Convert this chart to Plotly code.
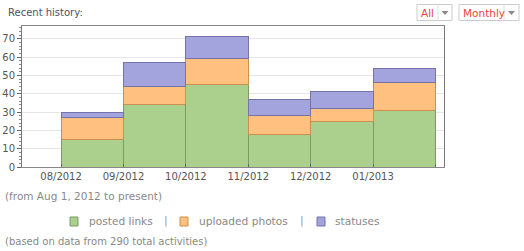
import plotly.graph_objects as go

months = ["08/2012", "09/2012", "10/2012", "11/2012", "12/2012", "01/2013"]
posted_links = [15, 34, 45, 18, 25, 31]
uploaded_photos = [12, 10, 14, 10, 7, 15]
statuses = [3, 13, 12, 9, 9, 8]
series_names = ["posted links", "uploaded photos", "statuses"]
fills = ["#abcf8d", "#ffc080", "#a3a3dd"]
edges = ["#7d9a66", "#c99050", "#7474ab"]

W, H = 524, 251
L, R, T, B = 22, 80, 26, 84
PW, PH = W - L - R, H - T - B

def px(x):
    return (x - L) / PW

def py(y):
    return (H - B - y) / PH

xpos = [i + 0.5 for i in range(len(months))]

fig = go.Figure()
for name, vals, fc, ec in zip(series_names, [posted_links, uploaded_photos, statuses], fills, edges):
    fig.add_trace(go.Bar(x=xpos, y=vals, width=1, name=name,
                         marker=dict(color=fc, line=dict(color=ec, width=1)),
                         showlegend=False, hoverinfo="skip"))

font = "DejaVu Sans, Verdana, sans-serif"
fig.update_layout(
    width=W, height=H, margin=dict(l=L, r=R, t=T, b=B),
    barmode="stack", plot_bgcolor="white", paper_bgcolor="white",
    font=dict(family=font, size=10, color="#555"),
    xaxis=dict(range=[-0.626, 6.137], tickvals=list(range(len(months) + 1)),
               ticktext=months + [""], ticks="inside", ticklen=3, tickcolor="#666",
               showline=True, linecolor="#888", mirror=True, showgrid=False,
               zeroline=False, automargin=False, tickfont=dict(size=10, color="#555")),
    yaxis=dict(range=[0, 77], dtick=10, ticks="outside", ticklen=4, tickcolor="#666",
               showline=True, linecolor="#777", mirror=True, gridcolor="#e6e6e6",
               zeroline=False, automargin=False, tickfont=dict(size=10, color="#555"),
               minor=dict(dtick=2, ticks="outside", ticklen=2, tickcolor="#888", showgrid=False)),
)

shapes = []
ann = []
def text(x, y, s, size=10, color="#888", anchor="left"):
    ann.append(dict(x=px(x), y=py(y), xref="paper", yref="paper", text=s, showarrow=False,
                    xanchor=anchor, yanchor="middle", font=dict(family=font, size=size, color=color)))

text(6, 12.5, "Recent history:", size=10, color="#4a5263")
text(3, 196, "(from Aug 1, 2012 to present)", size=10.5)
text(3, 241, "(based on data from 290 total activities)", size=10)

# legend
leg = [(70, 88, series_names[0]), (180, 198, series_names[1]), (317, 334, series_names[2])]
for (sx, tx, name), fc, ec in zip(leg, fills, edges):
    shapes.append(dict(type="rect", xref="paper", yref="paper", x0=px(sx), x1=px(sx + 8),
                       y0=py(226), y1=py(217), fillcolor=fc, line=dict(color=ec, width=1)))
    text(tx - 1, 221, name, size=10.6)
text(166, 220.5, "|", color="#999", anchor="center", size=11)
text(302, 220.5, "|", color="#999", anchor="center", size=11)

# dropdown boxes
for x0, xd, x1, label, lx in [(417, 438, 452, "All", 420), (459, 504, 519, "Monthly", 462)]:
    shapes.append(dict(type="rect", xref="paper", yref="paper", x0=px(x0), x1=px(x1),
                       y0=py(20.5), y1=py(4.5), fillcolor="white", line=dict(color="#cccccc", width=1)))
    shapes.append(dict(type="line", xref="paper", yref="paper", x0=px(xd), x1=px(xd),
                       y0=py(20.5), y1=py(4.5), line=dict(color="#dddddd", width=1)))
    cx = (xd + x1) / 2
    shapes.append(dict(type="path", xref="paper", yref="paper",
                       path=f"M {px(cx-3.5)} {py(11)} L {px(cx+3.5)} {py(11)} L {px(cx)} {py(15)} Z",
                       fillcolor="#888", line=dict(width=0)))
    text(lx - 1, 12.5, label, size=10.5, color="#f0443c")

fig.update_layout(shapes=shapes, annotations=ann)
fig.write_html("out.html")
